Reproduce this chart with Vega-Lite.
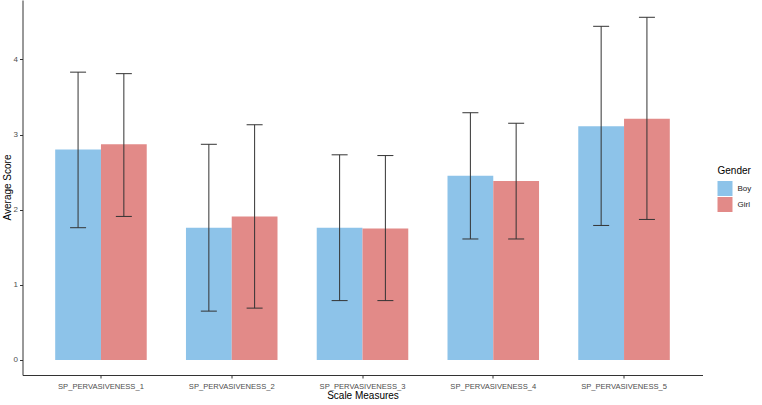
{
  "$schema": "https://vega.github.io/schema/vega-lite/v6.json",
  "width": 680,
  "height": 375,
  "autosize": {"type": "none"},
  "padding": {"left": 22.5, "top": 0, "right": 59.5, "bottom": 30},
  "background": "white",
  "config": {
    "view": {"stroke": null},
    "font": "Liberation Sans",
    "axis": {
      "grid": false,
      "domainColor": "#333333",
      "domainWidth": 1,
      "tickColor": "#333333",
      "tickSize": 3,
      "labelColor": "#4D4D4D",
      "labelFont": "Liberation Sans",
      "titleFont": "Liberation Sans",
      "titleFontWeight": "normal",
      "titleColor": "#000000",
      "titleFontSize": 10
    },
    "legend": {
      "orient": "none",
      "legendX": 695,
      "legendY": 166,
      "titleFontSize": 10,
      "titleFontWeight": "normal",
      "titleColor": "#000000",
      "titlePadding": 5,
      "labelFontSize": 8,
      "labelColor": "#1A1A1A",
      "symbolType": "square",
      "symbolSize": 225,
      "symbolStrokeWidth": 0,
      "symbolOpacity": 1,
      "rowPadding": 1,
      "labelOffset": 5
    }
  },
  "data": {
    "values": [
      {"measure": "SP_PERVASIVENESS_1", "gender": "Boy", "mean": 2.80, "lower": 1.76, "upper": 3.83},
      {"measure": "SP_PERVASIVENESS_1", "gender": "Girl", "mean": 2.87, "lower": 1.91, "upper": 3.81},
      {"measure": "SP_PERVASIVENESS_2", "gender": "Boy", "mean": 1.76, "lower": 0.65, "upper": 2.87},
      {"measure": "SP_PERVASIVENESS_2", "gender": "Girl", "mean": 1.91, "lower": 0.69, "upper": 3.13},
      {"measure": "SP_PERVASIVENESS_3", "gender": "Boy", "mean": 1.76, "lower": 0.79, "upper": 2.73},
      {"measure": "SP_PERVASIVENESS_3", "gender": "Girl", "mean": 1.75, "lower": 0.79, "upper": 2.72},
      {"measure": "SP_PERVASIVENESS_4", "gender": "Boy", "mean": 2.45, "lower": 1.61, "upper": 3.29},
      {"measure": "SP_PERVASIVENESS_4", "gender": "Girl", "mean": 2.38, "lower": 1.61, "upper": 3.15},
      {"measure": "SP_PERVASIVENESS_5", "gender": "Boy", "mean": 3.11, "lower": 1.79, "upper": 4.44},
      {"measure": "SP_PERVASIVENESS_5", "gender": "Girl", "mean": 3.21, "lower": 1.87, "upper": 4.56}
    ]
  },
  "encoding": {
    "x": {
      "field": "measure",
      "type": "nominal",
      "title": "Scale Measures",
      "scale": {"paddingInner": 0.3, "paddingOuter": 0.25},
      "axis": {"labelAngle": 0, "labelFontSize": 7.6, "labelPadding": 4, "titlePadding": 1}
    },
    "xOffset": {
      "field": "gender",
      "type": "nominal",
      "scale": {"paddingInner": 0, "paddingOuter": 0}
    }
  },
  "layer": [
    {
      "mark": {"type": "bar"},
      "encoding": {
        "y": {
          "field": "mean",
          "type": "quantitative",
          "stack": null,
          "title": "Average Score",
          "scale": {"domain": [-0.2, 4.79], "nice": false, "zero": false},
          "axis": {
            "values": [0, 1, 2, 3, 4],
            "format": "d",
            "labelFontSize": 8,
            "labelPadding": 2,
            "titleX": -15,
            "titleY": 187,
            "titleAngle": -90,
            "titleAlign": "center",
            "titleBaseline": "middle"
          }
        },
        "color": {
          "field": "gender",
          "type": "nominal",
          "title": "Gender",
          "scale": {"domain": ["Boy", "Girl"], "range": ["#8DC3E9", "#E28A88"]}
        }
      }
    },
    {
      "mark": {"type": "rule", "color": "#333333", "strokeWidth": 1},
      "encoding": {
        "y": {"field": "lower", "type": "quantitative", "title": "Average Score"},
        "y2": {"field": "upper"}
      }
    },
    {
      "mark": {"type": "tick", "orient": "horizontal", "size": 16, "thickness": 1, "color": "#333333", "opacity": 1},
      "encoding": {
        "y": {"field": "lower", "type": "quantitative", "title": "Average Score"}
      }
    },
    {
      "mark": {"type": "tick", "orient": "horizontal", "size": 16, "thickness": 1, "color": "#333333", "opacity": 1},
      "encoding": {
        "y": {"field": "upper", "type": "quantitative", "title": "Average Score"}
      }
    }
  ]
}
